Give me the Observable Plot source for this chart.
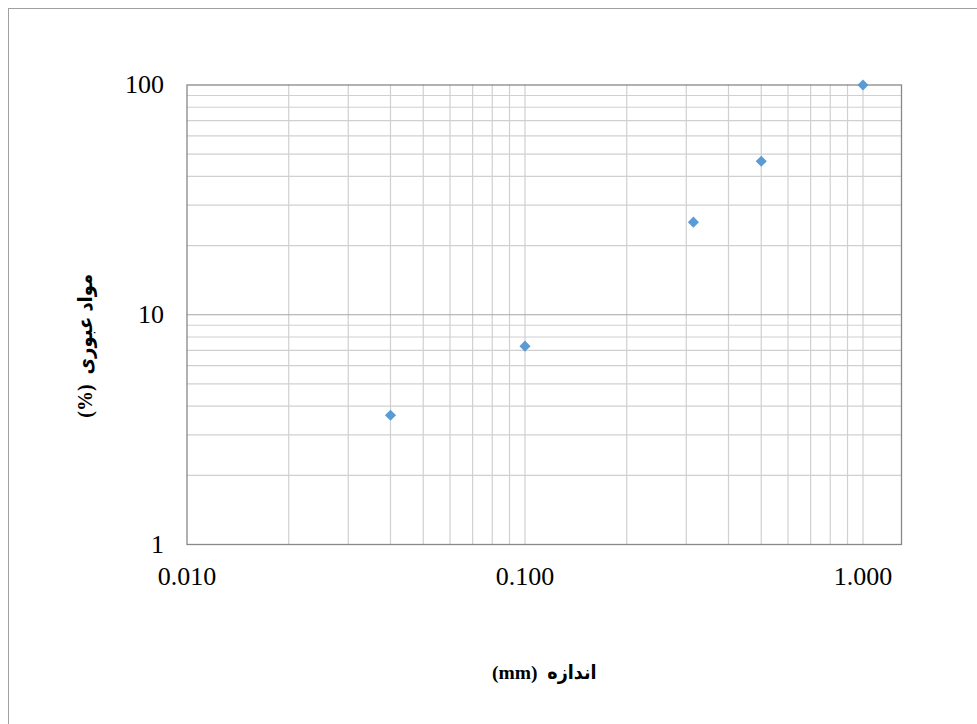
<!DOCTYPE html>
<html>
<head>
<meta charset="utf-8">
<script src="https://cdn.jsdelivr.net/npm/d3@7"></script>
<script src="https://cdn.jsdelivr.net/npm/@observablehq/plot@0.6"></script>
<style>
  html, body { margin: 0; padding: 0; background: #fff; }
  #wrap { position: relative; width: 977px; height: 724px; overflow: hidden; }
  #border { position: absolute; left: 8px; top: 8px; width: 1200px; height: 1200px;
            border-left: 1px solid #a0a0a0; border-top: 1px solid #a0a0a0; box-sizing: border-box; }
  #chart { position: absolute; left: 0; top: 0; }
</style>
</head>
<body>
<div id="wrap"><div id="border"></div><div id="chart"></div></div>
<script>
// Data
const sizes = [0.04, 0.1, 0.315, 0.5, 1.0];          // particle size (mm)
const passing = [3.65, 7.3, 25.3, 46.6, 100];         // passing (%)

// Axis ticks and labels
const xTicks = [0.01, 0.1, 1];
const xTickLabels = ["0.010", "0.100", "1.000"];
const yTicks = [1, 10, 100];
const yTickLabels = ["1", "10", "100"];
const xDomain = [0.01, 1.3];
const yDomain = [1, 100];
const xTitle = "اندازه  (mm)";
const yTitle = "مواد عبوری  (%)";

const points = sizes.map((s, i) => ({size: s, pass: passing[i]}));
const xGrid = d3.scaleLog().domain(xDomain).ticks().filter(v => v > xDomain[0] && v <= xDomain[1]);
const yGrid = d3.scaleLog().domain(yDomain).ticks().filter(v => v > yDomain[0] && v < yDomain[1]);
const yMinor = yGrid.filter(v => !yTicks.includes(v));
const yMajor = yGrid.filter(v => yTicks.includes(v));

const serif = "'Liberation Serif', 'Times New Roman', 'DejaVu Sans Condensed', 'DejaVu Sans', serif";
const rtl = s => "\u202B" + s + "\u202C";   // right-to-left embedding for Persian titles

const chart = Plot.plot({
  width: 977,
  height: 724,
  marginLeft: 186.5,
  marginRight: 76,
  marginTop: 84.5,
  marginBottom: 180,
  style: {fontFamily: serif, background: "transparent", overflow: "visible"},
  x: {type: "log", domain: xDomain, axis: null},
  y: {type: "log", domain: yDomain, axis: null},
  marks: [
    Plot.ruleX(xGrid, {x: d => d, stroke: "#d0d0d0", strokeWidth: 1.2}),
    Plot.ruleY(yMinor, {y: d => d, stroke: "#d0d0d0", strokeWidth: 1.2}),
    Plot.ruleY(yMajor, {y: d => d, stroke: "#a6a6a6", strokeWidth: 1.2}),
    Plot.frame({stroke: "#898989", strokeWidth: 1.3}),
    Plot.text(xTicks, {x: d => d, text: (d, i) => xTickLabels[i], frameAnchor: "bottom",
      dy: 32, lineAnchor: "middle", fontSize: 26, fill: "#000"}),
    Plot.text(yTicks, {y: d => d, text: (d, i) => yTickLabels[i], frameAnchor: "left",
      dx: -23, textAnchor: "end", lineAnchor: "middle", fontSize: 26, fill: "#000"}),
    Plot.text([xTitle], {text: d => rtl(d), frameAnchor: "bottom", dy: 128, lineAnchor: "middle",
      textAnchor: "middle", fontSize: 19.5, fontWeight: "bold", fill: "#000"}),
    Plot.text([yTitle], {text: d => rtl(d), frameAnchor: "left", dx: -101.5, dy: 31, rotate: -90,
      lineAnchor: "middle", textAnchor: "middle", fontSize: 20, fontWeight: "bold", fill: "#000"}),
    Plot.dot(points, {x: "size", y: "pass", symbol: "diamond2", r: 5, fill: "#5b9bd5", stroke: "none"})
  ]
});

document.getElementById("chart").appendChild(chart);
</script>
</body>
</html>
